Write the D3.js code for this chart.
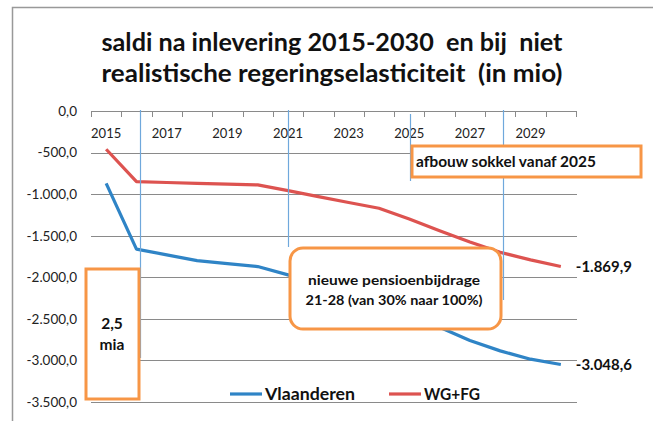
<!DOCTYPE html>
<html>
<head>
<meta charset="utf-8">
<script src="https://cdn.jsdelivr.net/npm/d3@7"></script>
<style>
  body { margin: 0; background: #fff; }
  svg { display: block; font-family: Lato, "Open Sans", sans-serif; }
</style>
</head>
<body>
<svg width="653" height="421"></svg>
<script>
const years = [2015, 2016, 2017, 2018, 2019, 2020, 2021, 2022, 2023, 2024, 2025, 2026, 2027, 2028, 2029, 2030];
const vlaanderen = [-870, -1662, -1730, -1800, -1835, -1871, -1971, -2090, -2200, -2330, -2460, -2600, -2760, -2885, -2985, -3048.6];
const wgfg = [-460, -850, -860, -870, -880, -889, -958, -1030, -1100, -1170, -1300, -1440, -1575, -1700, -1790, -1869.9];
const yTicks = [0, -500, -1000, -1500, -2000, -2500, -3000, -3500];
const xLabels = [2015, 2017, 2019, 2021, 2023, 2025, 2027, 2029];
const seriesNames = ["Vlaanderen", "WG+FG"];

const blue = "#2f84c6";
const red = "#dd5350";
const orange = "#f79646";
const leader = "#6fa8dc";
const grid = "#8a8a8a";

const nl = d3.formatLocale({ decimal: ",", thousands: ".", grouping: [3], currency: ["€", ""], minus: "-" });
const fmt = nl.format(",.1f");

const svg = d3.select("svg");

// chart frame
svg.append("rect")
  .attr("x", 12.5).attr("y", 7.5)
  .attr("width", 700).attr("height", 450)
  .attr("fill", "#fff").attr("stroke", "#999").attr("stroke-width", 1.5);

// title
const title = ["saldi na inlevering 2015-2030  en bij  niet", "realistische regeringselasticiteit  (in mio)"];
svg.append("g").selectAll("text")
  .data(title)
  .enter()
  .append("text")
  .attr("x", 332)
  .attr("y", (d, i) => 51 + i * 31)
  .attr("text-anchor", "middle")
  .attr("font-size", 24)
  .attr("font-weight", "bold")
  .attr("fill", "#111")
  .attr("textLength", 461)
  .attr("lengthAdjust", "spacingAndGlyphs")
  .style("white-space", "pre")
  .text(d => d);

// scales
const x = d3.scaleBand().domain(years).range([91, 576]);
const y = d3.scaleLinear().domain([-3500, 0]).range([402, 111]);
const xc = v => x(years[0]) + x.bandwidth() / 2 + (v - years[0]) * x.step();

// gridlines
svg.append("g")
  .selectAll("line")
  .data(yTicks)
  .enter()
  .append("line")
  .attr("x1", 91).attr("x2", 577)
  .attr("y1", d => Math.round(y(d)) + 0.5)
  .attr("y2", d => Math.round(y(d)) + 0.5)
  .attr("stroke", grid).attr("stroke-width", 1);

// y axis labels
const yAxis = svg.append("g")
  .attr("transform", "translate(91,0)")
  .call(d3.axisLeft(y).tickValues(yTicks).tickSize(0).tickPadding(14).tickFormat(fmt));
yAxis.select(".domain").remove();
yAxis.selectAll("text").attr("font-size", 13.5).attr("font-family", "Lato, sans-serif").attr("fill", "#222");

// x axis at zero, ticks on category boundaries
const boundaries = years.map(d => x(d)).concat([x(years[years.length - 1]) + x.bandwidth()]);
svg.append("g")
  .selectAll("line")
  .data(boundaries)
  .enter()
  .append("line")
  .attr("x1", d => Math.round(d) + 0.5).attr("x2", d => Math.round(d) + 0.5)
  .attr("y1", Math.round(y(0))).attr("y2", Math.round(y(0)) + 6)
  .attr("stroke", grid);
const xAxis = svg.append("g")
  .attr("transform", `translate(0,${y(0)})`)
  .call(d3.axisBottom(x).tickValues(xLabels).tickSize(0).tickPadding(18));
xAxis.select(".domain").remove();
xAxis.selectAll("text").attr("font-size", 13).attr("font-family", "Lato, sans-serif").attr("fill", "#222");

// lines
const line = d3.line()
  .x((d, i) => x(years[i]) + x.bandwidth() / 2)
  .y(d => y(d));
svg.append("path").attr("d", line(wgfg)).attr("fill", "none").attr("stroke", red).attr("stroke-width", 3.2).attr("stroke-linejoin", "round");
svg.append("path").attr("d", line(vlaanderen)).attr("fill", "none").attr("stroke", blue).attr("stroke-width", 3.2).attr("stroke-linejoin", "round");

// end labels
const ends = [wgfg[wgfg.length - 1], vlaanderen[vlaanderen.length - 1]];
svg.append("g").selectAll("text")
  .data(ends)
  .enter()
  .append("text")
  .attr("x", xc(2030) + 15)
  .attr("y", d => y(d))
  .attr("dy", "0.35em")
  .attr("font-size", 15)
  .attr("font-weight", "bold")
  .attr("fill", "#111")
  .attr("textLength", 56)
  .attr("lengthAdjust", "spacingAndGlyphs")
  .text(d => fmt(d));

// leader lines for callouts
const leaders = [
  { v: 2016.12, y1: 110, y2: 358 },
  { v: 2021, y1: 110, y2: 247 },
  { v: 2025.02, y1: 114, y2: 181 },
  { v: 2028.08, y1: 110, y2: 300 }
];
svg.append("g").selectAll("line")
  .data(leaders)
  .enter()
  .append("line")
  .attr("x1", d => Math.round(xc(d.v)) + 0.5).attr("x2", d => Math.round(xc(d.v)) + 0.5)
  .attr("y1", d => d.y1).attr("y2", d => d.y2)
  .attr("stroke", leader).attr("stroke-width", 1.2);

// callout boxes
svg.append("rect")
  .attr("x", 412).attr("y", 146).attr("width", 229).attr("height", 31)
  .attr("fill", "#fff").attr("stroke", orange).attr("stroke-width", 3);
svg.append("text")
  .attr("x", 416).attr("y", 167)
  .attr("font-size", 15).attr("font-weight", "bold").attr("fill", "#111")
  .attr("textLength", 180).attr("lengthAdjust", "spacingAndGlyphs")
  .text("afbouw sokkel vanaf 2025");

svg.append("rect")
  .attr("x", 290).attr("y", 248).attr("width", 211).attr("height", 81)
  .attr("rx", 13).attr("ry", 13)
  .attr("fill", "#fff").attr("stroke", orange).attr("stroke-width", 3);
svg.append("g").selectAll("text")
  .data(["nieuwe pensioenbijdrage", "21-28 (van 30% naar 100%)"])
  .enter()
  .append("text")
  .attr("x", 394)
  .attr("y", (d, i) => 285 + i * 20)
  .attr("text-anchor", "middle")
  .attr("font-size", 14).attr("font-weight", "bold").attr("fill", "#111")
  .attr("textLength", (d, i) => i ? 177 : 172)
  .attr("lengthAdjust", "spacingAndGlyphs")
  .text(d => d);

svg.append("rect")
  .attr("x", 86).attr("y", 269).attr("width", 53).attr("height", 130)
  .attr("fill", "#fff").attr("stroke", orange).attr("stroke-width", 3);
svg.append("g").selectAll("text")
  .data(["2,5", "mia"])
  .enter()
  .append("text")
  .attr("x", 112)
  .attr("y", (d, i) => 329 + i * 21)
  .attr("text-anchor", "middle")
  .attr("font-size", 15.5).attr("font-weight", "bold").attr("fill", "#111")
  .text(d => d);

// legend
const legend = svg.append("g").selectAll("g")
  .data(seriesNames)
  .enter()
  .append("g")
  .attr("transform", (d, i) => `translate(${230 + i * 159},394)`);
legend.append("line")
  .attr("x1", 0).attr("x2", 32)
  .attr("stroke", (d, i) => i ? red : blue).attr("stroke-width", 3.2);
legend.append("text")
  .attr("x", 35).attr("dy", "0.35em")
  .attr("font-size", 17).attr("font-weight", "bold").attr("fill", "#111")
  .attr("textLength", (d, i) => i ? 56 : 90)
  .attr("lengthAdjust", "spacingAndGlyphs")
  .text(d => d);
</script>
</body>
</html>
